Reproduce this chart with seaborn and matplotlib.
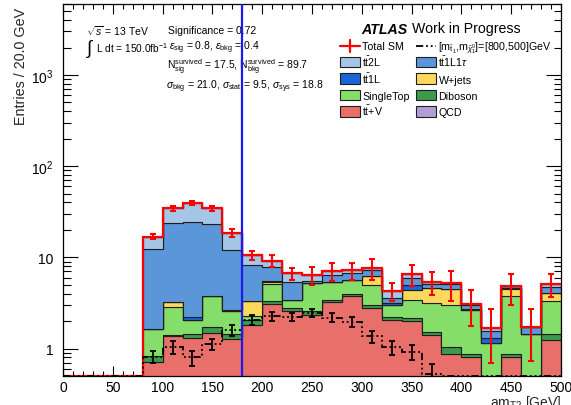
import numpy as np
import pandas as pd
import matplotlib
matplotlib.use("Agg")
import matplotlib.pyplot as plt
import seaborn as sns
from matplotlib.lines import Line2D
from matplotlib.patches import Rectangle
from matplotlib import ticker

# ---------------- data ----------------
bin_edges = np.arange(80, 501, 20)          # 20 GeV bins, 80..500
empty_edges = np.arange(0, 81, 20)          # empty region 0..80
cut_value = 180

ttV       = [0.72, 1.36, 1.32, 1.49, 1.27, 1.80, 3.10, 2.60, 2.32, 3.20, 3.80, 2.80, 2.05, 2.03, 1.42, 0.88, 0.81, 0.00, 0.81, 0.00, 1.24]
diboson   = [0.10, 0.06, 0.12, 0.24, 0.19, 0.28, 0.20, 0.20, 0.23, 0.25, 0.20, 0.20, 0.18, 0.14, 0.10, 0.16, 0.07, 0.00, 0.07, 0.00, 0.22]
singletop = [0.80, 1.45, 0.64, 2.03, 1.14, 0.18, 1.75, 0.65, 2.63, 1.97, 1.63, 1.97, 0.77, 1.23, 1.60, 1.96, 1.76, 1.16, 2.90, 1.44, 1.89]
wjets     = [0.00, 0.33, 0.00, 0.00, 0.00, 1.04, 0.25, 0.00, 0.00, 0.00, 0.00, 1.33, 0.00, 0.98, 1.52, 1.50, 0.00, 0.00, 0.67, 0.00, 0.67]
tt1L      = [0.00, 0.05, 0.15, 0.03, 0.02, 0.00, 0.15, 0.00, 0.00, 0.00, 0.00, 0.00, 0.18, 0.59, 0.00, 0.05, 0.10, 0.15, 0.20, 0.00, 0.00]
tt1L1tau  = [10.58, 20.35, 22.47, 19.20, 9.38, 4.90, 2.45, 1.95, 0.31, 0.98, 1.07, 0.96, 0.42, 1.01, 0.41, 0.50, 0.30, 0.24, 0.19, 0.29, 0.74]
tt2L      = [4.70, 10.90, 15.20, 11.50, 6.70, 2.40, 1.30, 1.27, 0.89, 0.70, 0.50, 0.44, 0.66, 0.52, 0.35, 0.18, 0.01, 0.15, 0.00, 0.00, 0.33]
qcd       = [0.0] * 21

total_err = [1.2, 2.0, 2.0, 2.0, 2.0, 1.2, 1.3, 1.0, 1.4, 1.6, 1.5, 2.0, 0.95, 1.7, 1.55, 1.9, 1.3, 1.0, 1.8, 1.0, 1.45]

signal     = [0.81, 1.04, 0.80, 1.12, 1.59, 2.08, 2.26, 2.23, 2.45, 2.19, 1.97, 1.36, 1.04, 0.91, 0.52, 0, 0, 0, 0, 0, 0]
signal_err = [0.12, 0.17, 0.15, 0.15, 0.20, 0.25, 0.25, 0.25, 0.25, 0.25, 0.25, 0.20, 0.18, 0.17, 0.15, 0, 0, 0, 0, 0, 0]

# stacking order: first = top of stack, last = bottom
process_keys = ["QCD", "tt2L", "tt1L1tau", "tt1L", "Wjets", "SingleTop", "Diboson", "ttV"]
process_vals = [qcd, tt2L, tt1L1tau, tt1L, wjets, singletop, diboson, ttV]
colors = {"tt2L": "#a6c6e8", "tt1L1tau": "#5b97d8", "tt1L": "#1a66d6", "Wjets": "#fcd95c",
          "SingleTop": "#86de6a", "Diboson": "#3c9a4e", "ttV": "#e9706a", "QCD": "#b39dd6"}
labels = {"tt2L": r"t$\bar{\mathrm{t}}$2L", "tt1L1tau": r"t$\bar{\mathrm{t}}$1L1$\tau$",
          "tt1L": r"t$\bar{\mathrm{t}}$1L", "Wjets": "W+jets", "SingleTop": "SingleTop",
          "Diboson": "Diboson", "ttV": r"t$\bar{\mathrm{t}}$+V", "QCD": "QCD"}
total_label = "Total SM"
signal_label = r"[m$_{\tilde{\mathrm{t}}_{1}}$,m$_{\tilde{\chi}^{0}_{1}}$]=[800,500]GeV"

y_lo, y_hi = 0.5, 6000

# ---------------- style ----------------
sns.set_style("ticks")
plt.rcParams["font.family"] = ["Liberation Sans", "DejaVu Sans"]
plt.rcParams["mathtext.fontset"] = "custom"
plt.rcParams["mathtext.rm"] = "Liberation Sans"
plt.rcParams["mathtext.it"] = "Liberation Sans:italic"
plt.rcParams["mathtext.bf"] = "Liberation Sans:bold"
plt.rcParams["mathtext.sf"] = "Liberation Sans"
plt.rcParams["text.color"] = "black"

W, H = 571, 406
fig = plt.figure(figsize=(W / 100, H / 100), dpi=100)
AX_L, AX_R, AX_T, AX_B = 63, 561, 5, 377
ax = fig.add_axes([AX_L / W, 1 - AX_B / H, (AX_R - AX_L) / W, (AX_B - AX_T) / H])
ax.set_yscale("log")


def axpos(px, py):
    """pixel position in the figure -> axes fraction (layout helper)"""
    return (px - AX_L) / (AX_R - AX_L), (AX_B - py) / (AX_B - AX_T)


centers = (bin_edges[:-1] + bin_edges[1:]) / 2
rows = []
for key, vals in zip(process_keys, process_vals):
    for c, v in zip(centers, vals):
        rows.append({"x": float(c), "w": float(v), "process": key})
df = pd.DataFrame(rows)

sns.histplot(data=df, x="x", weights="w", hue="process", hue_order=process_keys,
             palette=colors, binwidth=20, binrange=(float(bin_edges[0]), float(bin_edges[-1])),
             multiple="stack", element="step",
             fill=True, alpha=1.0, edgecolor="#1e1e1e", linewidth=0.8,
             legend=False, ax=ax)

total = np.sum(np.array(process_vals), axis=0)
total_full = np.concatenate([np.zeros(len(empty_edges) - 1), total])
sig_full = np.concatenate([np.zeros(len(empty_edges) - 1), np.array(signal)])
edges_full = np.concatenate([empty_edges[:-1], bin_edges])

ax.stairs(np.where(total_full > 0, total_full, y_lo), edges_full, color="#ff0000",
          lw=1.6, baseline=None, zorder=5)
ax.errorbar(centers, total, yerr=total_err, fmt="none", ecolor="#ff0000",
            elinewidth=1.5, capsize=2, capthick=1.5, zorder=6)

sig_style = (0, (4, 1.6, 1, 1.6, 1, 1.6, 1, 1.6))
ax.stairs(np.where(sig_full > 0, sig_full, y_lo), edges_full, color="black",
          lw=1.3, linestyle=sig_style, baseline=None, zorder=6)
sig = np.array(signal)
m = sig > 0
ax.errorbar(centers[m], sig[m], yerr=np.array(signal_err)[m], fmt="none",
            ecolor="black", elinewidth=1.3, capsize=2, capthick=1.3, zorder=6)

ax.axvline(cut_value, color="#1a1aee", lw=1.6, zorder=8)

# ---------------- axes ----------------
ax.set_xlim(0, 500)
ax.set_ylim(y_lo, y_hi)
ax.xaxis.set_major_locator(ticker.MultipleLocator(50))
ax.xaxis.set_minor_locator(ticker.MultipleLocator(10))
ax.yaxis.set_major_locator(ticker.LogLocator(base=10, numticks=10))
ax.yaxis.set_minor_locator(ticker.LogLocator(base=10, subs=np.arange(2, 10), numticks=30))
ax.yaxis.set_minor_formatter(ticker.NullFormatter())


def yfmt(v, pos):
    e = int(round(np.log10(v)))
    if e == 0:
        return "1"
    if e == 1:
        return "10"
    return r"10$^{%d}$" % e


ax.yaxis.set_major_formatter(ticker.FuncFormatter(yfmt))
ax.tick_params(axis="both", which="both", direction="in", top=True, right=True,
               width=0.8, color="black", labelcolor="black")
ax.tick_params(axis="x", which="major", length=7.5, pad=3.2, labelsize=10)
ax.tick_params(axis="x", which="minor", length=3.8)
ax.tick_params(axis="y", which="major", length=10.5, pad=7, labelsize=10)
ax.tick_params(axis="y", which="minor", length=5.4)
for s in ax.spines.values():
    s.set_visible(True)
    s.set_color("black")
    s.set_linewidth(0.9)

ax.set_xlabel(r"am$_{\mathrm{T2}}$ [GeV]", loc="right", fontsize=10, labelpad=-1.2)
ax.set_ylabel("Entries / 20.0 GeV", loc="top", fontsize=10.3)
ax.yaxis.set_label_coords(-0.070, 0.992)

# ---------------- annotations ----------------
fs = 7.5
ax.text(*axpos(86, 31.0), r"$\sqrt{s}$ = 13 TeV", fontsize=fs, va="center", transform=ax.transAxes)
ax.text(*axpos(86, 48.5), r"$\int$", fontsize=13.5, va="center", transform=ax.transAxes)
ax.text(*axpos(96.5, 48.3), r"L dt = 150.0fb$^{-1}$", fontsize=7.3, va="center", transform=ax.transAxes)
ax.text(*axpos(168, 31.5), "Significance = 0.72", fontsize=fs, va="center", transform=ax.transAxes)
ax.text(*axpos(169, 48.3), r"$\epsilon_{\mathrm{sig}}$ = 0.8, $\epsilon_{\mathrm{bkg}}$ = 0.4",
        fontsize=fs, va="center", transform=ax.transAxes)
ax.text(*axpos(167, 67.5), r"N$_{\mathrm{sig}}^{\mathrm{survived}}$ = 17.5, N$_{\mathrm{bkg}}^{\mathrm{survived}}$ = 89.7",
        fontsize=fs, va="center", transform=ax.transAxes)
ax.text(*axpos(166, 86.5), r"$\sigma_{\mathrm{bkg}}$ = 21.0, $\sigma_{\mathrm{stat}}$ = 9.5, $\sigma_{\mathrm{sys}}$ = 18.8",
        fontsize=fs, va="center", transform=ax.transAxes)

t1 = ax.text(*axpos(361.5, 29.5), "ATLAS", fontsize=10.2, fontweight="bold", fontstyle="italic",
             va="center", transform=ax.transAxes)
fig.canvas.draw()
bb = t1.get_window_extent(fig.canvas.get_renderer())
x1 = ax.transAxes.inverted().transform((bb.x1, bb.y0))[0]
ax.text(x1 + 0.008, axpos(0, 29.5)[1], "Work in Progress", fontsize=10.2, va="center",
        transform=ax.transAxes)

# ---------------- legend (manual two-column layout like ROOT) ----------------
leg_fs = 7.7
col_x = [340, 416]            # handle left edge (px)
row_y0, row_dy = 46.6, 16.5   # row centres (px)
hw, hh = 20, 10.5             # handle size (px)
entries = [
    [("total", total_label), ("signal", signal_label)],
    [("tt2L", labels["tt2L"]), ("tt1L1tau", labels["tt1L1tau"])],
    [("tt1L", labels["tt1L"]), ("Wjets", labels["Wjets"])],
    [("SingleTop", labels["SingleTop"]), ("Diboson", labels["Diboson"])],
    [("ttV", labels["ttV"]), ("QCD", labels["QCD"])],
]
for r, row in enumerate(entries):
    yc = row_y0 + r * row_dy
    for c, (key, lab) in enumerate(row):
        x0 = col_x[c]
        if key == "total":
            xa, ya = axpos(x0, yc)
            xb, _ = axpos(x0 + hw, yc)
            ax.add_line(Line2D([xa, xb], [ya, ya], color="#ff0000", lw=1.6,
                               transform=ax.transAxes, zorder=9))
            xm, _ = axpos(x0 + hw / 2, yc)
            _, yt = axpos(0, yc - 6)
            _, yb = axpos(0, yc + 6)
            ax.add_line(Line2D([xm, xm], [yb, yt], color="#ff0000", lw=1.6,
                               transform=ax.transAxes, zorder=9))
        elif key == "signal":
            xa, ya = axpos(x0, yc)
            xb, _ = axpos(x0 + hw, yc)
            ax.add_line(Line2D([xa, xb], [ya, ya], color="black", lw=1.3, linestyle=sig_style,
                               transform=ax.transAxes, zorder=9))
        else:
            xa, yb = axpos(x0, yc + hh / 2)
            xb, yt = axpos(x0 + hw, yc - hh / 2)
            ax.add_patch(Rectangle((xa, yb), xb - xa, yt - yb, facecolor=colors[key],
                                   edgecolor="#1e1e1e", linewidth=0.8,
                                   transform=ax.transAxes, zorder=9))
        tx, ty = axpos(x0 + hw + 2.5, yc + 3.9)
        ax.text(tx, ty, lab, fontsize=leg_fs, va="baseline", ha="left",
                transform=ax.transAxes, zorder=9)

fig.savefig("out.png", dpi=100)
